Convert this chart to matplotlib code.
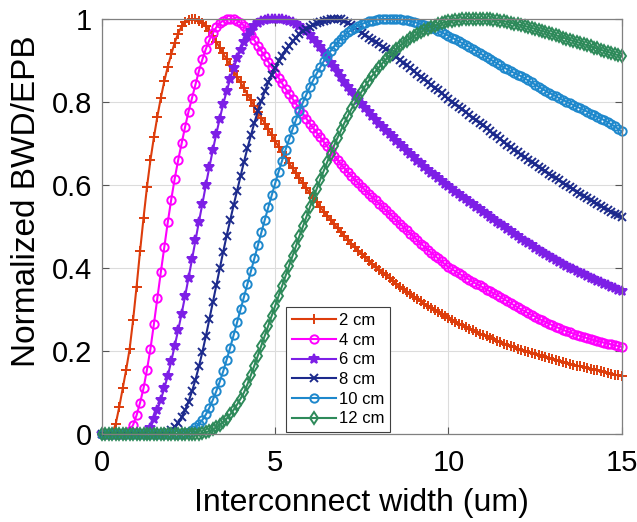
import numpy as np
import matplotlib
matplotlib.use("Agg")
import matplotlib.pyplot as plt

plt.rcParams['font.family'] = ['Liberation Sans', 'DejaVu Sans']

# Interconnect width (um), sampled every 0.1 um from 0 to 15
width = np.linspace(0, 15, 151)

bwd_2cm = [
    0.000, 0.000, 0.000, 0.002, 0.025, 0.065, 0.110, 0.155, 0.205, 0.275,
    0.355, 0.440, 0.520, 0.595, 0.660, 0.715, 0.765, 0.810, 0.850, 0.885,
    0.915, 0.943, 0.965, 0.982, 0.993, 0.998, 1.000, 0.999, 0.996, 0.990,
    0.982, 0.972, 0.960, 0.945, 0.931, 0.917, 0.903, 0.889, 0.875, 0.861,
    0.847, 0.833, 0.818, 0.804, 0.790, 0.776, 0.762, 0.748, 0.734, 0.720,
    0.706, 0.692, 0.679, 0.666, 0.653, 0.640, 0.628, 0.616, 0.604, 0.592,
    0.580, 0.569, 0.558, 0.547, 0.536, 0.526, 0.516, 0.506, 0.496, 0.486,
    0.477, 0.468, 0.459, 0.450, 0.442, 0.434, 0.426, 0.418, 0.410, 0.403,
    0.396, 0.389, 0.382, 0.375, 0.368, 0.362, 0.355, 0.349, 0.343, 0.337,
    0.331, 0.325, 0.320, 0.314, 0.309, 0.304, 0.299, 0.294, 0.289, 0.284,
    0.280, 0.275, 0.271, 0.266, 0.262, 0.258, 0.254, 0.250, 0.246, 0.242,
    0.238, 0.235, 0.231, 0.228, 0.224, 0.221, 0.218, 0.215, 0.212, 0.209,
    0.206, 0.203, 0.200, 0.197, 0.195, 0.192, 0.190, 0.187, 0.185, 0.182,
    0.180, 0.178, 0.175, 0.173, 0.171, 0.169, 0.167, 0.165, 0.163, 0.161,
    0.159, 0.157, 0.155, 0.153, 0.151, 0.149, 0.147, 0.145, 0.143, 0.141,
    0.140]

bwd_4cm = [
    0.000, 0.000, 0.000, 0.000, 0.000, 0.000, 0.000, 0.002, 0.008, 0.022,
    0.045, 0.075, 0.110, 0.155, 0.205, 0.265, 0.328, 0.390, 0.450, 0.510,
    0.565, 0.615, 0.660, 0.700, 0.740, 0.777, 0.810, 0.843, 0.875, 0.903,
    0.928, 0.949, 0.966, 0.980, 0.990, 0.996, 0.999, 1.000, 0.999, 0.996,
    0.991, 0.984, 0.974, 0.962, 0.949, 0.936, 0.923, 0.910, 0.897, 0.884,
    0.871, 0.858, 0.845, 0.832, 0.820, 0.808, 0.796, 0.784, 0.772, 0.760,
    0.748, 0.737, 0.726, 0.715, 0.704, 0.693, 0.682, 0.671, 0.661, 0.650,
    0.640, 0.631, 0.622, 0.613, 0.604, 0.596, 0.587, 0.579, 0.571, 0.563,
    0.555, 0.547, 0.539, 0.531, 0.523, 0.515, 0.507, 0.499, 0.491, 0.483,
    0.475, 0.467, 0.459, 0.452, 0.444, 0.437, 0.430, 0.423, 0.416, 0.409,
    0.402, 0.397, 0.392, 0.387, 0.382, 0.377, 0.372, 0.367, 0.362, 0.358,
    0.353, 0.348, 0.344, 0.339, 0.335, 0.330, 0.325, 0.320, 0.315, 0.310,
    0.305, 0.300, 0.296, 0.291, 0.287, 0.283, 0.278, 0.274, 0.270, 0.266,
    0.262, 0.258, 0.255, 0.251, 0.248, 0.245, 0.242, 0.239, 0.236, 0.234,
    0.231, 0.229, 0.226, 0.224, 0.222, 0.220, 0.218, 0.216, 0.214, 0.212,
    0.210]

bwd_6cm = [
    0.000, 0.000, 0.000, 0.000, 0.000, 0.000, 0.000, 0.000, 0.000, 0.000,
    0.000, 0.000, 0.001, 0.004, 0.015, 0.035, 0.058, 0.083, 0.110, 0.140,
    0.175, 0.212, 0.250, 0.290, 0.332, 0.376, 0.421, 0.467, 0.512, 0.555,
    0.600, 0.643, 0.684, 0.723, 0.760, 0.795, 0.826, 0.855, 0.881, 0.905,
    0.926, 0.944, 0.959, 0.972, 0.982, 0.990, 0.995, 0.998, 1.000, 1.000,
    1.000, 1.000, 0.999, 0.997, 0.995, 0.992, 0.988, 0.983, 0.977, 0.970,
    0.962, 0.953, 0.943, 0.932, 0.920, 0.908, 0.895, 0.884, 0.872, 0.860,
    0.848, 0.837, 0.826, 0.815, 0.805, 0.795, 0.785, 0.775, 0.766, 0.757,
    0.748, 0.739, 0.731, 0.723, 0.715, 0.707, 0.699, 0.691, 0.683, 0.675,
    0.667, 0.659, 0.652, 0.644, 0.637, 0.630, 0.623, 0.616, 0.609, 0.603,
    0.597, 0.590, 0.584, 0.578, 0.572, 0.566, 0.560, 0.554, 0.548, 0.542,
    0.536, 0.530, 0.524, 0.518, 0.512, 0.506, 0.500, 0.494, 0.488, 0.483,
    0.477, 0.471, 0.466, 0.460, 0.455, 0.449, 0.444, 0.439, 0.434, 0.429,
    0.424, 0.419, 0.414, 0.410, 0.405, 0.401, 0.397, 0.393, 0.389, 0.385,
    0.381, 0.377, 0.373, 0.369, 0.366, 0.362, 0.359, 0.355, 0.352, 0.348,
    0.345]

bwd_8cm = [
    0.000, 0.000, 0.000, 0.000, 0.000, 0.000, 0.000, 0.000, 0.000, 0.000,
    0.000, 0.000, 0.000, 0.000, 0.000, 0.000, 0.000, 0.000, 0.001, 0.004,
    0.009, 0.017, 0.027, 0.040, 0.057, 0.078, 0.103, 0.131, 0.163, 0.198,
    0.236, 0.276, 0.317, 0.358, 0.399, 0.439, 0.478, 0.515, 0.551, 0.586,
    0.622, 0.656, 0.689, 0.720, 0.750, 0.778, 0.803, 0.826, 0.847, 0.866,
    0.883, 0.898, 0.912, 0.925, 0.936, 0.946, 0.955, 0.963, 0.970, 0.976,
    0.981, 0.986, 0.990, 0.993, 0.996, 0.998, 0.999, 1.000, 1.000, 0.999,
    0.996, 0.991, 0.985, 0.979, 0.973, 0.967, 0.961, 0.955, 0.950, 0.944,
    0.939, 0.933, 0.928, 0.923, 0.916, 0.909, 0.902, 0.895, 0.889, 0.882,
    0.875, 0.868, 0.861, 0.855, 0.848, 0.841, 0.834, 0.828, 0.821, 0.814,
    0.808, 0.801, 0.795, 0.788, 0.782, 0.775, 0.769, 0.762, 0.756, 0.750,
    0.744, 0.737, 0.730, 0.723, 0.717, 0.710, 0.704, 0.697, 0.691, 0.685,
    0.679, 0.673, 0.667, 0.661, 0.656, 0.650, 0.644, 0.638, 0.633, 0.627,
    0.622, 0.616, 0.611, 0.605, 0.600, 0.595, 0.590, 0.584, 0.579, 0.574,
    0.569, 0.564, 0.559, 0.554, 0.550, 0.545, 0.540, 0.536, 0.531, 0.527,
    0.522]

bwd_10cm = [
    0.000, 0.000, 0.000, 0.000, 0.000, 0.000, 0.000, 0.000, 0.000, 0.000,
    0.000, 0.000, 0.000, 0.000, 0.000, 0.000, 0.000, 0.000, 0.000, 0.000,
    0.000, 0.000, 0.000, 0.001, 0.003, 0.006, 0.010, 0.016, 0.024, 0.034,
    0.047, 0.063, 0.082, 0.103, 0.126, 0.151, 0.179, 0.208, 0.238, 0.269,
    0.300, 0.331, 0.362, 0.393, 0.424, 0.455, 0.486, 0.516, 0.546, 0.575,
    0.604, 0.632, 0.659, 0.685, 0.710, 0.734, 0.757, 0.779, 0.799, 0.818,
    0.836, 0.853, 0.869, 0.884, 0.898, 0.911, 0.923, 0.934, 0.944, 0.953,
    0.961, 0.968, 0.974, 0.979, 0.984, 0.988, 0.991, 0.994, 0.996, 0.998,
    0.999, 1.000, 1.000, 1.000, 1.000, 1.000, 0.999, 0.998, 0.997, 0.995,
    0.993, 0.991, 0.988, 0.985, 0.982, 0.979, 0.976, 0.972, 0.968, 0.964,
    0.960, 0.955, 0.951, 0.946, 0.942, 0.937, 0.933, 0.928, 0.923, 0.918,
    0.913, 0.908, 0.903, 0.898, 0.893, 0.888, 0.883, 0.879, 0.874, 0.870,
    0.866, 0.862, 0.857, 0.852, 0.847, 0.842, 0.837, 0.832, 0.827, 0.822,
    0.818, 0.814, 0.809, 0.805, 0.801, 0.797, 0.793, 0.789, 0.785, 0.781,
    0.777, 0.772, 0.768, 0.764, 0.760, 0.756, 0.751, 0.746, 0.741, 0.735,
    0.729]

bwd_12cm = [
    0.000, 0.000, 0.000, 0.000, 0.000, 0.000, 0.000, 0.000, 0.000, 0.000,
    0.000, 0.000, 0.000, 0.000, 0.000, 0.000, 0.000, 0.000, 0.000, 0.000,
    0.000, 0.000, 0.000, 0.000, 0.000, 0.000, 0.000, 0.000, 0.001, 0.002,
    0.004, 0.007, 0.011, 0.016, 0.022, 0.029, 0.037, 0.047, 0.058, 0.071,
    0.085, 0.100, 0.120, 0.142, 0.165, 0.189, 0.213, 0.237, 0.261, 0.285,
    0.309, 0.333, 0.357, 0.381, 0.405, 0.429, 0.453, 0.477, 0.500, 0.523,
    0.546, 0.569, 0.591, 0.613, 0.634, 0.655, 0.675, 0.695, 0.714, 0.732,
    0.750, 0.767, 0.783, 0.798, 0.812, 0.826, 0.839, 0.851, 0.863, 0.874,
    0.884, 0.894, 0.903, 0.912, 0.920, 0.928, 0.935, 0.942, 0.948, 0.954,
    0.959, 0.964, 0.969, 0.973, 0.977, 0.981, 0.984, 0.987, 0.990, 0.992,
    0.994, 0.996, 0.997, 0.998, 0.999, 1.000, 1.000, 1.000, 1.000, 1.000,
    1.000, 0.999, 0.999, 0.998, 0.997, 0.996, 0.995, 0.993, 0.991, 0.989,
    0.987, 0.985, 0.983, 0.981, 0.979, 0.976, 0.974, 0.971, 0.969, 0.966,
    0.963, 0.961, 0.958, 0.955, 0.953, 0.950, 0.947, 0.945, 0.942, 0.939,
    0.937, 0.934, 0.931, 0.929, 0.926, 0.923, 0.921, 0.918, 0.915, 0.913,
    0.910]

labels = ['2 cm', '4 cm', '6 cm', '8 cm', '10 cm', '12 cm']
series = [bwd_2cm, bwd_4cm, bwd_6cm, bwd_8cm, bwd_10cm, bwd_12cm]
x_ticks = [0, 5, 10, 15]
y_ticks = [0, 0.2, 0.4, 0.6, 0.8, 1]
y_ticklabels = ['0', '0.2', '0.4', '0.6', '0.8', '1']

colors = ['#dd3d0c', '#ff00ff', '#7d1fe6', '#1c2a8c', '#1e88cc', '#2e8a5a']
markers = ['+', 'o', '*', 'x', 'o', 'd']
msizes = [7, 6, 7, 6, 6, 6]
mfcs = [None, 'none', None, None, 'none', 'none']

fig = plt.figure(figsize=(6.37, 5.22), dpi=100)
ax = fig.add_axes([0.160, 0.1686, 0.816, 0.795])

for y, lab, c, m, ms, mfc in zip(series, labels, colors, markers, msizes, mfcs):
    kw = dict(color=c, marker=m, markersize=ms, linewidth=1.5,
              markeredgewidth=1.4, label=lab, clip_on=False)
    if mfc is not None:
        kw['markerfacecolor'] = mfc
    ax.plot(width, y, **kw)

ax.set_xlim(0, 15)
ax.set_ylim(0, 1)
ax.set_xticks(x_ticks)
ax.set_yticks(y_ticks)
ax.set_yticklabels(y_ticklabels)
ax.grid(True, color='#dcdcdc', linewidth=0.8)
ax.set_axisbelow(True)
ax.tick_params(direction='in', labelsize=21, length=5, color='#555555',
               top=True, right=True)
ax.tick_params(axis='x', pad=11)
ax.tick_params(axis='y', pad=7)
for sp in ax.spines.values():
    sp.set_color('#808080')
    sp.set_linewidth(0.9)

ax.set_xlabel('Interconnect width (um)', fontsize=23, labelpad=8)
ax.set_ylabel('Normalized BWD/EPB', fontsize=24, va='center')
ax.yaxis.set_label_coords(-0.146, 0.56)

leg = ax.legend(loc='lower left', bbox_to_anchor=(0.355, 0.004),
                fontsize=12, handlelength=2.6, labelspacing=0.28,
                borderpad=0.35, handletextpad=0.2, fancybox=False,
                framealpha=1, edgecolor='#404040', borderaxespad=0)
leg.get_frame().set_linewidth(0.8)

fig.savefig('out.png', dpi=100)
